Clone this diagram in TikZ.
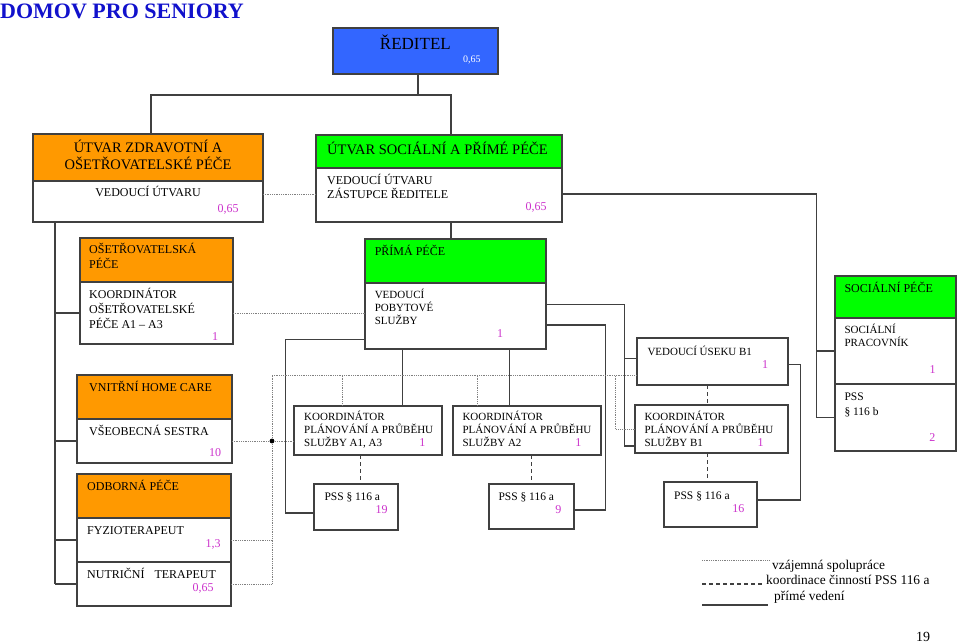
\documentclass[tikz,border=0pt]{standalone}
\usepackage{fontspec}
\setmainfont{Liberation Serif}
\usetikzlibrary{calc}
\definecolor{orng}{RGB}{255,153,0}
\definecolor{grn}{RGB}{0,255,0}
\definecolor{blu}{RGB}{51,102,255}
\definecolor{mag}{RGB}{204,51,204}
\definecolor{ttl}{RGB}{17,17,204}
\definecolor{bord}{RGB}{64,64,64}
\tikzset{
  box/.style={draw=bord, line width=1.3pt, inner sep=0pt, outer sep=0pt, anchor=north west, fill=white},
  conn/.style={draw=bord, line width=1.3pt},
  coop/.style={draw=gray, line width=1pt, dash pattern=on 1pt off 0.8pt},
  dsh/.style={draw=bord, line width=1.3pt, dash pattern=on 4pt off 3pt},
  tx/.style={inner sep=0pt, anchor=base west, align=left, font=\fontsize{12}{14}\selectfont},
  txs/.style={inner sep=0pt, anchor=base west, align=left, font=\fontsize{11}{13}\selectfont},
  hd/.style={inner sep=0pt, anchor=base west, align=left, font=\fontsize{14.5}{17}\selectfont},
  num/.style={inner sep=0pt, anchor=base, text=mag, font=\fontsize{12}{14}\selectfont},
  leg/.style={inner sep=0pt, anchor=base west, font=\fontsize{13.4}{16}\selectfont},
}
\begin{document}
\begin{tikzpicture}[x=1pt,y=-1pt]
\useasboundingbox (0,0) rectangle (960,644);
\fill[white] (0,0) rectangle (960,644);

% title
\node[inner sep=0pt, anchor=base west, text=ttl, font=\fontsize{22}{26}\selectfont\bfseries] (title) at (0,18.5) {DOMOV PRO SENIORY};

% boxes
\node[box, fill=blu, minimum width=165pt, minimum height=46pt] (red) at (333,28) {};
\node[box, fill=orng, minimum width=230pt, minimum height=47pt] (uzh) at (33,134) {};
\node[box, minimum width=230pt, minimum height=41pt] (uzb) at (33,181) {};
\node[box, fill=grn, minimum width=246pt, minimum height=33pt] (ush) at (316,135) {};
\node[box, minimum width=246pt, minimum height=54pt] (usb) at (316,168) {};
\node[box, fill=orng, minimum width=153pt, minimum height=44pt] (osh) at (80,238) {};
\node[box, minimum width=153pt, minimum height=62pt] (osb) at (80,282) {};
\node[box, fill=orng, minimum width=155pt, minimum height=44pt] (vhh) at (77,375) {};
\node[box, minimum width=155pt, minimum height=44pt] (vhb) at (77,419) {};
\node[box, fill=orng, minimum width=154pt, minimum height=44pt] (odh) at (77,474) {};
\node[box, minimum width=154pt, minimum height=44pt] (fyb) at (77,518) {};
\node[box, minimum width=154pt, minimum height=44pt] (ntb) at (77,562) {};
\node[box, fill=grn, minimum width=181pt, minimum height=44pt] (pph) at (365,239) {};
\node[box, minimum width=181pt, minimum height=66pt] (ppb) at (365,283) {};
\node[box, minimum width=148pt, minimum height=49pt] (ka) at (294,406) {};
\node[box, minimum width=148pt, minimum height=49pt] (kb) at (453,406) {};
\node[box, minimum width=151pt, minimum height=47pt] (vb) at (637,338) {};
\node[box, minimum width=153pt, minimum height=48pt] (kc) at (635,405) {};
\node[box, minimum width=84pt, minimum height=46pt] (p19) at (314,484) {};
\node[box, minimum width=85pt, minimum height=45pt] (p9) at (489,484) {};
\node[box, minimum width=93pt, minimum height=45pt] (p16) at (664,482) {};
\node[box, fill=grn, minimum width=121pt, minimum height=42pt] (sph) at (835,276) {};
\node[box, minimum width=121pt, minimum height=66pt] (sp1) at (835,318) {};
\node[box, minimum width=121pt, minimum height=67pt] (sp2) at (835,384) {};

% texts (multi-line nodes: base = last line)
\node[inner sep=0pt, anchor=base, font=\fontsize{17}{20}\selectfont] (t1) at (415.4,49.5) {ŘEDITEL};
\node[inner sep=0pt, anchor=base west, text=white, font=\fontsize{10}{12}\selectfont] (t2) at (463,63) {0,65};
\node[hd, anchor=base, align=center] (t3) at (148,169.8) {ÚTVAR ZDRAVOTNÍ A\\OŠETŘOVATELSKÉ PÉČE};
\node[tx, anchor=base] (t4) at (148,197) {VEDOUCÍ ÚTVARU};
\node[num] (n1) at (228,213) {0,65};
\node[hd] (t5) at (327,154.8) {ÚTVAR SOCIÁLNÍ A PŘÍMÉ PÉČE};
\node[tx] (t6) at (327,198.2) {VEDOUCÍ ÚTVARU\\ZÁSTUPCE ŘEDITELE};
\node[num] (n2) at (536,211) {0,65};
\node[tx] (t7) at (89,268) {OŠETŘOVATELSKÁ\\PÉČE};
\node[tx, font=\fontsize{12}{15}\selectfont] (t8) at (89,328) {KOORDINÁTOR\\OŠETŘOVATELSKÉ\\PÉČE A1 – A3};
\node[num] (n3) at (215,340) {1};
\node[tx] (t9) at (89,391) {VNITŘNÍ HOME CARE};
\node[tx] (t10) at (89,435) {VŠEOBECNÁ SESTRA};
\node[num] (n4) at (215,456) {10};
\node[tx] (t11) at (87,490) {ODBORNÁ PÉČE};
\node[tx] (t12) at (87,534) {FYZIOTERAPEUT};
\node[num] (n5) at (213,547.5) {1,3};
\node[tx] (t13) at (87,578) {NUTRIČNÍ\hspace{10pt}TERAPEUT};
\node[num] (n6) at (203,591) {0,65};
\node[tx] (t14) at (374.6,255) {PŘÍMÁ PÉČE};
\node[txs] (t15) at (374.6,324) {VEDOUCÍ\\POBYTOVÉ\\SLUŽBY};
\node[num] (n7) at (500,337.5) {1};
\node[txs] (t16) at (304,446.5) {KOORDINÁTOR\\PLÁNOVÁNÍ A PRŮBĚHU\\SLUŽBY A1, A3};
\node[num] (n8) at (422.3,446.5) {1};
\node[txs] (t17) at (462.3,446.5) {KOORDINÁTOR\\PLÁNOVÁNÍ A PRŮBĚHU\\SLUŽBY A2};
\node[num] (n9) at (578.3,446.5) {1};
\node[txs] (t18) at (647.3,355) {VEDOUCÍ ÚSEKU B1};
\node[num] (n10) at (765,368) {1};
\node[txs] (t19) at (644.3,446.5) {KOORDINÁTOR\\PLÁNOVÁNÍ A PRŮBĚHU\\SLUŽBY B1};
\node[num] (n11) at (760.7,446.5) {1};
\node[txs, font=\fontsize{11.5}{13}\selectfont] (t20) at (324.3,500.7) {PSS § 116 a};
\node[num] (n12) at (381.7,513.3) {19};
\node[txs, font=\fontsize{11.5}{13}\selectfont] (t21) at (498.3,500.7) {PSS § 116 a};
\node[num] (n13) at (558.3,513.3) {9};
\node[txs, font=\fontsize{11.5}{13}\selectfont] (t22) at (674,499) {PSS § 116 a};
\node[num] (n14) at (738.3,512.3) {16};
\node[tx] (t23) at (844.3,292.3) {SOCIÁLNÍ PÉČE};
\node[txs] (t24) at (844.3,346) {SOCIÁLNÍ\\PRACOVNÍK};
\node[num] (n15) at (932.7,373) {1};
\node[txs, font=\fontsize{11.5}{15}\selectfont] (t25) at (844.3,415.7) {PSS\\§ 116 b};
\node[num] (n16) at (932.3,441) {2};

% solid connectors
\coordinate (r0) at (418,95);
\coordinate (hl) at (151,95);
\coordinate (hr) at (451,95);
\draw[conn] (r0 |- red.south) -- (r0);
\draw[conn] (hl |- uzh.north) -- (hl) -- (hr) -- (hr |- ush.north);
\draw[conn] (hr |- usb.south) -- (hr |- pph.north);

\coordinate (ls) at (55,300);
\draw[conn] (ls |- uzb.south) -- (ls |- ntb.west);
\draw[conn] (ls |- osb.west) -- (osb.west);
\draw[conn] (ls |- vhb.west) -- (vhb.west);
\draw[conn] (ls |- fyb.west) -- (fyb.west);
\draw[conn] (ls |- ntb.west) -- (ntb.west);

\coordinate (rs) at (816.7,194);
\draw[conn] (rs -| usb.east) -- (rs) -- (rs |- sp2.west) -- (sp2.west);
\draw[conn] (rs |- sp1.west) -- (sp1.west);

\coordinate (xa) at (402.7,380);
\coordinate (xb) at (509.5,380);
\draw[conn] (xa |- ppb.south) -- (xa |- ka.north);
\draw[conn] (xb |- ppb.south) -- (xb |- kb.north);

\coordinate (xl) at (285.7,339.3);
\coordinate (p19w) at ($(p19.west)+(0,6)$);
\draw[conn] (xl -| ppb.west) -- (xl) -- (xl |- p19w) -- (p19w);

\coordinate (xr1) at (605.7,325);
\coordinate (p9e) at ($(p9.east)+(0,3.5)$);
\draw[conn] (xr1 -| ppb.east) -- (xr1) -- (xr1 |- p9e) -- (p9e);

\coordinate (xr2) at (624.3,304.3);
\coordinate (kcw) at ($(kc.west)+(0,17)$);
\coordinate (vbw) at ($(vb.west)+(0,-3)$);
\draw[conn] (xr2 -| ppb.east) -- (xr2) -- (xr2 |- kcw) -- (kcw);
\draw[conn] (xr2 |- vbw) -- (vbw);

\coordinate (xr3) at (800.7,430);
\coordinate (vbe) at ($(vb.east)+(0,3)$);
\coordinate (p16e) at ($(p16.east)+(0,-4.5)$);
\draw[conn] (vbe) -- (vbe -| xr3) -- (xr3 |- p16e) -- (p16e);

% dashed connectors
\coordinate (xd1) at (360.7,470);
\coordinate (xd2) at (531.7,470);
\coordinate (xd3) at (707.7,470);
\draw[dsh] (xd1 |- ka.south) -- (xd1 |- p19.north);
\draw[dsh] (xd2 |- kb.south) -- (xd2 |- p9.north);
\draw[dsh] (xd3 |- vb.south) -- (xd3 |- kc.north);
\draw[dsh] (xd3 |- kc.south) -- (xd3 |- p16.north);

% dotted connectors
\draw[coop] (usb.west -| uzb.east) -- (usb.west);
\draw[coop] (osb.east) -- (osb.east -| ppb.west);
\coordinate (dv) at (272,375.7);
\draw[coop] (dv) -- (dv |- ntb.east);
\draw[coop] (dv) -- (dv -| vb.west);
\draw[coop] (fyb.east) -- (fyb.east -| dv);
\draw[coop] (ntb.east) -- (ntb.east -| dv);
\draw[coop] (vhb.east) -- (vhb.east -| ka.west);
\fill[black] (vhb.east -| dv) circle (2.4pt);
\coordinate (xq1) at (342.5,390);
\coordinate (xq2) at (477.6,390);
\coordinate (xq3) at (615.7,390);
\draw[coop] (xq1 |- dv) -- (xq1 |- ka.north);
\draw[coop] (xq2 |- dv) -- (xq2 |- kb.north);
\draw[coop] (xq3 |- dv) -- (xq3 |- kc.west) -- (kc.west);

% legend
\coordinate (l1a) at (702,560.7); \coordinate (l1b) at (769,560.7);
\coordinate (l2a) at (702,584); \coordinate (l2b) at (762,584);
\coordinate (l3a) at (702,605); \coordinate (l3b) at (768,605);
\draw[coop] (l1a) -- (l1b);
\draw[dsh, line width=1.1pt] (l2a) -- (l2b);
\draw[conn, line width=1.1pt] (l3a) -- (l3b);
\node[leg] (lg1) at (772,569.5) {vzájemná spolupráce};
\node[leg] (lg2) at (766,584.5) {koordinace činností PSS 116 a};
\node[leg] (lg3) at (774,600) {přímé vedení};

% page number
\node[inner sep=0pt, anchor=base west, font=\fontsize{14}{16}\selectfont] (pg) at (916,641.5) {19};
\end{tikzpicture}
\end{document}
